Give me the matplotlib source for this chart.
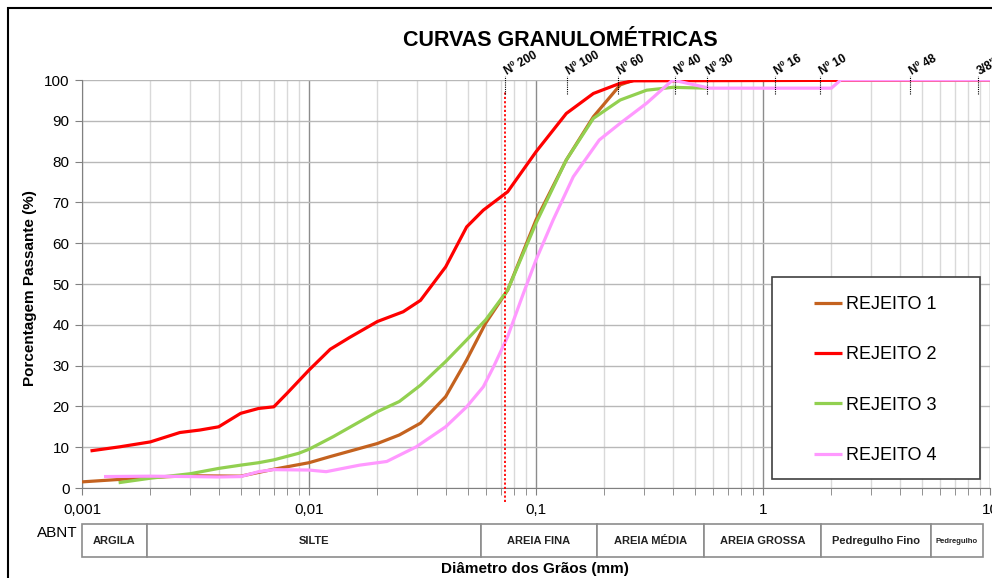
import matplotlib
matplotlib.use('Agg')
import matplotlib.pyplot as plt
from matplotlib.patches import Rectangle
from matplotlib.ticker import FixedLocator, FixedFormatter, LogLocator, NullFormatter

plt.rcParams['font.family'] = ['Liberation Sans', 'DejaVu Sans']

# curvas (diametro mm, % passante)
x_rej1 = [0.001, 0.002, 0.003, 0.005, 0.007, 0.01, 0.0124, 0.02, 0.025, 0.031, 0.04, 0.0495,
          0.06, 0.075, 0.1, 0.136, 0.179, 0.235, 0.27, 10]
y_rej1 = [1.5, 2.6, 3.0, 2.9, 4.6, 6.2, 7.7, 10.9, 13.0, 15.9, 22.4, 31.4,
          40.4, 48.5, 65.7, 80.4, 91.0, 98.8, 100, 100]

x_rej2 = [0.00109, 0.00147, 0.002, 0.0027, 0.0033, 0.004, 0.005, 0.006, 0.007, 0.008, 0.01,
          0.0124, 0.0151, 0.02, 0.026, 0.031, 0.04, 0.0495, 0.0586, 0.075, 0.1, 0.136, 0.179,
          0.235, 0.27, 10]
y_rej2 = [9.1, 10.1, 11.3, 13.6, 14.2, 15.0, 18.3, 19.5, 19.9, 23.2, 28.9,
          34.0, 36.9, 40.8, 43.2, 46.0, 54.2, 64.0, 68.1, 72.6, 82.4, 91.8, 96.7,
          99.2, 99.8, 100]

x_rej3 = [0.00145, 0.002, 0.003, 0.004, 0.005, 0.006, 0.007, 0.009, 0.01, 0.0128, 0.02, 0.025,
          0.031, 0.04, 0.0495, 0.06, 0.075, 0.1, 0.136, 0.179, 0.235, 0.307, 0.4, 0.565]
y_rej3 = [1.3, 2.4, 3.5, 4.8, 5.6, 6.2, 6.9, 8.5, 9.5, 12.6, 18.7, 21.2,
          25.2, 31.0, 36.3, 41.2, 48.5, 64.9, 80.4, 90.6, 95.1, 97.5, 98.2, 98.0]

x_rej4 = [0.00125, 0.002, 0.003, 0.004, 0.005, 0.006, 0.007, 0.01, 0.0119, 0.0167, 0.022,
          0.0297, 0.04, 0.0495, 0.0586, 0.065, 0.075, 0.088, 0.1, 0.119, 0.146, 0.19, 0.235,
          0.307, 0.4, 0.58, 2.0, 2.2, 10]
y_rej4 = [2.8, 2.9, 2.8, 2.7, 2.8, 4.0, 4.5, 4.4, 4.0, 5.6, 6.5,
          10.1, 15.0, 19.9, 24.8, 29.7, 37.1, 47.7, 55.9, 65.7, 76.3, 85.3, 89.4,
          94.3, 100, 98, 98, 100, 100]

series = [('REJEITO 1', x_rej1, y_rej1, '#C4621F'),
          ('REJEITO 2', x_rej2, y_rej2, '#FF0000'),
          ('REJEITO 3', x_rej3, y_rej3, '#92D050'),
          ('REJEITO 4', x_rej4, y_rej4, '#FF99FF')]

# peneiras (posicao)
sieve_x = [0.073, 0.137, 0.23, 0.41, 0.565, 1.13, 1.78, 4.44, 8.83]
sieve_lbl = ['Nº 200', 'Nº 100', 'Nº 60', 'Nº 40', 'Nº 30', 'Nº 16', 'Nº 10', 'Nº 48', '3/8"']

# faixas ABNT
abnt_edges = [0.001, 0.00193, 0.057, 0.185, 0.55, 1.8, 5.5, 9.3]
abnt_names = ['ARGILA', 'SILTE', 'AREIA FINA', 'AREIA MÉDIA', 'AREIA GROSSA',
              'Pedregulho Fino', 'Pedregulho']
abnt_sizes = [8, 8, 8, 8, 8, 8, 5.5]

W, H = 992, 578
fig = plt.figure(figsize=(W / 100, H / 100), dpi=100)
ax = fig.add_axes([82 / W, 1 - 488 / H, 908 / W, 408 / H])

ax.set_xscale('log')
ax.set_xlim(0.001, 10)
ax.set_ylim(0, 100)

# grade
ax.xaxis.set_minor_locator(LogLocator(base=10, subs=range(2, 10)))
ax.xaxis.set_minor_formatter(NullFormatter())
ax.grid(True, which='minor', axis='x', color='#d9d9d9', lw=1)
ax.grid(True, which='major', axis='x', color='#8c8c8c', lw=1)
ax.set_yticks(range(0, 101, 10))
ax.grid(True, which='major', axis='y', color='#b8b8b8', lw=1)
ax.set_axisbelow(True)

for name, xs, ys, c in series:
    ax.plot(xs, ys, color=c, lw=2.3, label=name, solid_capstyle='butt', zorder=3)

# linha da peneira 200
ax.plot([sieve_x[0], sieve_x[0]], [-3.5, 97], color='#FF0000', lw=1.3, ls=(0, (1.2, 1.2)),
        clip_on=False, zorder=4)
for sx, sl in zip(sieve_x, sieve_lbl):
    ax.plot([sx, sx], [96.5, 101], color='black', lw=0.8, ls=(0, (1, 1)), clip_on=False, zorder=5)
    ax.text(sx * 1.04, 100.6, sl, rotation=30, rotation_mode='anchor', ha='left', va='bottom',
            fontsize=8.5, fontweight='bold', clip_on=False)

ax.xaxis.set_major_locator(FixedLocator([0.001, 0.01, 0.1, 1, 10]))
ax.xaxis.set_major_formatter(FixedFormatter(['0,001', '0,01', '0,1', '1', '10']))
ax.tick_params(axis='x', which='both', direction='out', length=5, color='#808080',
               labelsize=11, pad=6)
ax.tick_params(axis='y', direction='out', length=5, color='#808080', labelsize=11, pad=4)
for s in ['top', 'right']:
    ax.spines[s].set_visible(False)
for s in ['left', 'bottom']:
    ax.spines[s].set_color('#808080')

# legenda
ax.add_patch(Rectangle((0.7596, 0.0213), 0.2294, 0.495, transform=ax.transAxes,
                       facecolor='white', edgecolor='#404040', lw=1.2, zorder=6))
leg = ax.legend(loc='center', bbox_to_anchor=(0.8733, 0.2647), frameon=False, fontsize=13,
                labelspacing=1.85, handlelength=1.55, handletextpad=0.2)
leg.set_zorder(7)

# tabela ABNT
tb = fig.add_axes([82 / W, 1 - 557 / H, 908 / W, 33 / H])
tb.set_xscale('log')
tb.set_xlim(0.001, 10)
tb.set_ylim(0, 1)
tb.axis('off')
for i, nm in enumerate(abnt_names):
    x0, x1 = abnt_edges[i], abnt_edges[i + 1]
    tb.add_patch(Rectangle((x0, 0), x1 - x0, 1, facecolor='white', edgecolor='#8c8c8c', lw=1.2,
                           clip_on=False))
    tb.text((x0 * x1) ** 0.5, 0.47, nm, ha='center', va='center', fontsize=abnt_sizes[i],
            fontweight='bold', color='#222222')

fig.text(57 / W, 1 - 533 / H, 'ABNT', ha='center', va='center', fontsize=11)
fig.text(560 / W, 1 - 40 / H, 'CURVAS GRANULOMÉTRICAS', ha='center', va='center',
         fontsize=15.5, fontweight='bold')
fig.text(30 / W, 1 - 288 / H, 'Porcentagem Passante (%)', rotation=90, ha='center',
         va='center', fontsize=11, fontweight='bold')
fig.text(535 / W, 1 - 569 / H, 'Diâmetro dos Grãos (mm)', ha='center', va='center',
         fontsize=11, fontweight='bold')

# moldura
fig.patches.append(Rectangle((8 / W, -0.5), 2, 1.5 - 8 / H, transform=fig.transFigure,
                             fill=False, edgecolor='black', lw=1.5))

fig.savefig('out.png', dpi=100)
